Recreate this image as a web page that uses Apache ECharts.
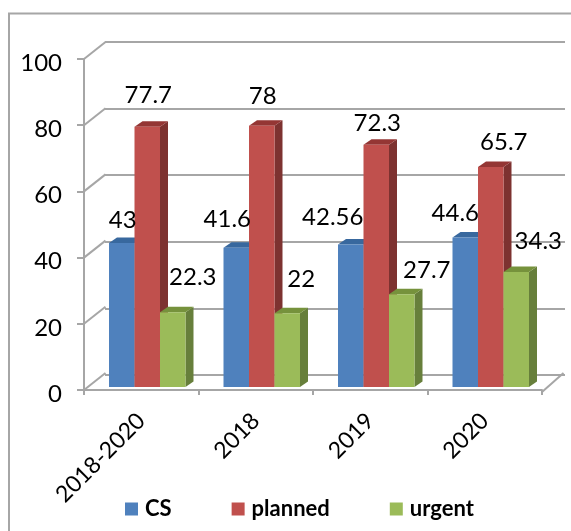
<!DOCTYPE html>
<html><head><meta charset="utf-8">
<style>html,body{margin:0;padding:0;background:#fff}#c{width:571px;height:531px}</style>
<script src="https://cdn.jsdelivr.net/npm/echarts@6/dist/echarts.min.js"></script>
</head><body><div id="c"></div>
<script>
var categories = ['2018-2020', '2018', '2019', '2020'];
var csValues = [43, 41.6, 42.56, 44.6];
var plannedValues = [77.7, 78, 72.3, 65.7];
var urgentValues = [22.3, 22, 27.7, 34.3];
var valueTicks = [0, 20, 40, 60, 80, 100];

// label nudges relative to the top-centre of each bar [dx, dy]
var csNudge = [[1, -23], [-9, -28], [-18, -27], [-10, -24]];
var plannedNudge = [[1, -31], [1, -29], [1, -22], [13, -25]];
var urgentNudge = [[20, -35], [14, -34], [25, -24], [22, -31]];

var FONT = 'Lato, "Open Sans", sans-serif';
var DEPTH_X = 8, DEPTH_Y = 5.5, WALL_X = 21.5, WALL_Y = 17;
var AXIS = '#a6a6a6';

function slotBox(api, slot) {
  var i = api.value(0), v = api.value(1);
  var c = api.coord([i, v]), b = api.coord([i, 0]);
  var w = api.size([1, 0])[0] * 0.2227;
  var x0 = c[0] + (slot - 1.5) * w;
  return {i: i, v: v, x0: x0, x1: x0 + w, w: w, yt: c[1], yb: b[1]};
}

function barSeries(name, values, slot, front, top, side) {
  return {
    name: name, type: 'custom', xAxisIndex: 2, yAxisIndex: 2, z: 5 + slot,
    itemStyle: {color: front},
    encode: {x: 0, y: 1},
    data: values.map(function (v, i) { return [i, v]; }),
    renderItem: function (params, api) {
      var s = slotBox(api, slot);
      return {type: 'group', children: [
        {type: 'polygon', shape: {points: [[s.x1, s.yb], [s.x1 + DEPTH_X, s.yb - DEPTH_Y], [s.x1 + DEPTH_X, s.yt - DEPTH_Y], [s.x1, s.yt]]}, style: {fill: side}},
        {type: 'polygon', shape: {points: [[s.x0, s.yt], [s.x0 + DEPTH_X, s.yt - DEPTH_Y], [s.x1 + DEPTH_X, s.yt - DEPTH_Y], [s.x1, s.yt]]}, style: {fill: top}},
        {type: 'rect', shape: {x: s.x0, y: s.yt, width: s.w, height: s.yb - s.yt}, style: {fill: front}}
      ]};
    }
  };
}

function labelSeries(values, nudges, slot) {
  return {
    type: 'custom', xAxisIndex: 2, yAxisIndex: 2, z: 20, silent: true,
    encode: {x: 0, y: 1},
    data: values.map(function (v, i) { return [i, v]; }),
    renderItem: function (params, api) {
      var s = slotBox(api, slot), n = nudges[s.i];
      return {type: 'text', style: {text: String(s.v), x: (s.x0 + s.x1) / 2 + n[0], y: s.yt + n[1],
        align: 'center', verticalAlign: 'middle', font: '24px ' + FONT, fill: '#000'}};
    }
  };
}

var wallSeries = {
  type: 'custom', xAxisIndex: 0, yAxisIndex: 0, z: 1, silent: true,
  encode: {y: 0},
  data: valueTicks.map(function (t) { return [t]; }),
  renderItem: function (params, api) {
    var left = params.coordSys.x, p = api.coord([0, api.value(0)]);
    return {type: 'line', shape: {x1: left, y1: p[1], x2: left + WALL_X, y2: p[1] - WALL_Y},
      style: {stroke: AXIS, lineWidth: 2}};
  }
};
var floorSeries = {
  type: 'custom', xAxisIndex: 0, yAxisIndex: 0, z: 1, silent: true,
  encode: {y: 0},
  data: [[0]],
  renderItem: function (params, api) {
    var r = params.coordSys.x + params.coordSys.width, p = api.coord([0, api.value(0)]);
    return {type: 'line', shape: {x1: r, y1: p[1] + 2, x2: r + WALL_X, y2: p[1] - WALL_Y},
      style: {stroke: AXIS, lineWidth: 2}};
  }
};

var chart = echarts.init(document.getElementById('c'), null, {renderer: 'canvas'});
chart.setOption({
  animation: false,
  backgroundColor: '#fff',
  graphic: [{type: 'rect', z: -10, shape: {x: 9, y: 13.5, width: 700, height: 700}, style: {fill: 'none', stroke: '#a6a6a6', lineWidth: 2}}],
  legend: {
    left: 125, top: 498, padding: 0, itemWidth: 13, itemHeight: 13, itemGap: 60, itemStyle: {borderWidth: 0}, selectedMode: false, icon: 'rect',
    data: ['CS', 'planned', 'urgent'],
    textStyle: {fontFamily: FONT, fontSize: 22, fontWeight: 'bold', color: '#000', padding: [0, 0, 0, 2]}
  },
  grid: [
    {left: 84, top: 59, width: 458, height: 331},
    {left: 105, top: 42, width: 460, height: 333},
    {left: 90, top: 52, width: 458, height: 335}
  ],
  xAxis: [
    {type: 'category', gridIndex: 0, data: categories, offset: 2, boundaryGap: true,
      axisLine: {lineStyle: {color: AXIS, width: 2}},
      axisTick: {show: true, length: 5, alignWithLabel: false, lineStyle: {color: AXIS, width: 2}},
      axisLabel: {rotate: 45, interval: 0, margin: 25, fontFamily: FONT, fontSize: 23, color: '#000'}},
    {type: 'category', gridIndex: 1, data: categories, show: false},
    {type: 'category', gridIndex: 2, data: categories, show: false}
  ],
  yAxis: [
    {type: 'value', gridIndex: 0, min: 0, max: 100, interval: 20,
      axisLine: {show: true, lineStyle: {color: AXIS, width: 2}},
      axisTick: {show: true, length: 7, lineStyle: {color: AXIS, width: 2}},
      splitLine: {show: false},
      axisLabel: {margin: 22, verticalAlign: 'top', lineHeight: 8, fontFamily: FONT, fontSize: 24, color: '#000'}},
    {type: 'value', gridIndex: 1, min: 0, max: 100, interval: 20,
      axisLine: {show: false}, axisTick: {show: false}, axisLabel: {show: false},
      splitLine: {show: true, lineStyle: {color: AXIS, width: 2}}},
    {type: 'value', gridIndex: 2, min: 0, max: 100, interval: 20, show: false, splitLine: {show: false}}
  ],
  series: [
    wallSeries, floorSeries,
    barSeries('CS', csValues, 0, '#4F81BD', '#38689E', '#3A6291'),
    barSeries('planned', plannedValues, 1, '#C0504D', '#943634', '#7D3230'),
    barSeries('urgent', urgentValues, 2, '#9BBB59', '#76923C', '#677F3B'),
    labelSeries(csValues, csNudge, 0),
    labelSeries(plannedValues, plannedNudge, 1),
    labelSeries(urgentValues, urgentNudge, 2)
  ]
});
</script></body></html>
